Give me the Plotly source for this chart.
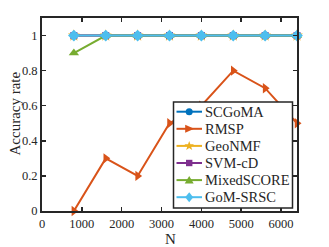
import plotly.graph_objects as go

N = [800, 1600, 2400, 3200, 4000, 4800, 5600, 6400]
scgoma = [1, 1, 1, 1, 1, 1, 1, 1]
rmsp = [0, 0.3, 0.2, 0.5, 0.6, 0.8, 0.7, 0.5]
geonmf = [1, 1, 1, 1, 1, 1, 1, 1]
svmcd = [1, 1, 1, 1, 1, 1, 1, 1]
mixedscore = [0.9, 1, 1, 1, 1, 1, 1, 1]
gomsrsc = [1, 1, 1, 1, 1, 1, 1, 1]
names = ["SCGoMA", "RMSP", "GeoNMF", "SVM-cD", "MixedSCORE", "GoM-SRSC"]
values = [scgoma, rmsp, geonmf, svmcd, mixedscore, gomsrsc]
colors = ["#0072BD", "#D95319", "#EDB120", "#7E2F8E", "#77AC30", "#4DBEEE"]
symbols = ["circle", "triangle-right", "star", "square", "triangle-up", "diamond"]
sizes = [7, 9, 9, 7, 9, 9]

# The page body margin is removed (post_script below), so the figure fills the window.
W, H = 329, 247
PL, PR, PT, PB = 42, 297, 18, 211          # plot area in window pixels
ML, MR, MT, MB = PL, W - PR, PT, H - PB
PW, PH = PR - PL, PB - PT

fig = go.Figure()
for name, vals, color, sym, size in zip(names, values, colors, symbols, sizes):
    fig.add_trace(go.Scatter(
        x=N, y=vals, name=name, mode="lines+markers",
        line=dict(color=color, width=2),
        marker=dict(symbol=sym, size=size, color=color, line=dict(width=0)),
        cliponaxis=False, showlegend=False,
    ))

font = "Liberation Serif"
dark = "#262626"
axis_common = dict(
    showline=True, linecolor=dark, linewidth=2, mirror="ticks",
    ticks="inside", ticklen=4, tickwidth=1.5, tickcolor=dark,
    showgrid=False, zeroline=False, automargin=False,
    tickfont=dict(family=font, size=12.5, color=dark),
)
fig.update_xaxes(range=[0, 6400], tickvals=[0, 1000, 2000, 3000, 4000, 5000, 6000], **axis_common)
fig.update_yaxes(range=[0, 1.1], tickvals=[0, 0.2, 0.4, 0.6, 0.8, 1],
                 ticktext=["0", "0.2", "0.4", "0.6", "0.8", "1"], **axis_common)


def px_x(p):
    return (p - PL) / PW


def px_y(p):
    return (PB - p) / PH


annotations = [
    dict(xref="paper", yref="paper", x=px_x(170.5), y=px_y(238.5), xanchor="center", yanchor="middle",
         showarrow=False, text="N", font=dict(family=font, size=15, color=dark)),
    dict(xref="paper", yref="paper", x=px_x(14.5), y=px_y(114), xanchor="center", yanchor="middle",
         showarrow=False, text="Accuracy rate", textangle=-90, font=dict(family=font, size=15, color=dark)),
]

# ---- legend drawn as layout decoration (box, sample lines, glyphs, labels) ----
shapes = [dict(type="rect", xref="paper", yref="paper",
               x0=px_x(173.5), x1=px_x(292.5), y0=px_y(208), y1=px_y(102),
               line=dict(color=dark, width=1.5), fillcolor="white", layer="above")]
glyph_paths = {
    "triangle-right": "M-4,4 L5,0 L-4,-4 Z",
    "star": "M0,5 L1.2,1.6 L4.8,1.6 L1.9,-0.6 L3,-4.1 L0,-2 L-3,-4.1 L-1.9,-0.6 L-4.8,1.6 L-1.2,1.6 Z",
    "triangle-up": "M-4.5,-3.5 L4.5,-3.5 L0,4 Z",
    "diamond": "M0,5 L4,0 L0,-5 L-4,0 Z",
}
for i, (name, color, sym) in enumerate(zip(names, colors, symbols)):
    yc = px_y(111.7 + 17.1 * i)
    shapes.append(dict(type="line", xref="paper", yref="paper",
                       x0=px_x(176.5), x1=px_x(202), y0=yc, y1=yc,
                       line=dict(color=color, width=2), layer="above"))
    xc = px_x(189.2)
    common = dict(xref="paper", yref="paper", xsizemode="pixel", ysizemode="pixel",
                  xanchor=xc, yanchor=yc, line=dict(width=0), fillcolor=color, layer="above")
    if sym == "circle":
        shapes.append(dict(type="circle", x0=-3.5, x1=3.5, y0=-3.5, y1=3.5, **common))
    elif sym == "square":
        shapes.append(dict(type="rect", x0=-3.2, x1=3.2, y0=-3.2, y1=3.2, **common))
    else:
        shapes.append(dict(type="path", path=glyph_paths[sym], **common))
    annotations.append(dict(xref="paper", yref="paper", x=px_x(203), y=yc,
                            xanchor="left", yanchor="middle", showarrow=False,
                            text=name, font=dict(family=font, size=14.5, color=dark)))

fig.update_layout(
    width=W, height=H,
    margin=dict(l=ML, r=MR, t=MT, b=MB),
    paper_bgcolor="white", plot_bgcolor="white",
    showlegend=False, hovermode=False,
    shapes=shapes, annotations=annotations,
)

fig.write_html("out.html",
               config={"displayModeBar": False, "staticPlot": True},
               post_script="document.body.style.margin='0';document.body.style.overflow='hidden';")
